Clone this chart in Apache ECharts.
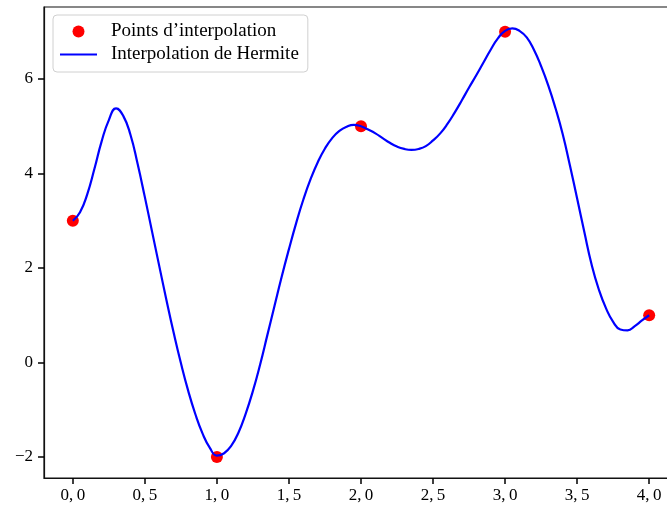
<!DOCTYPE html>
<html>
<head>
<meta charset="utf-8">
<script src="https://cdn.jsdelivr.net/npm/echarts@6/dist/echarts.min.js"></script>
<style>
  html, body { margin: 0; padding: 0; background: #fff; }
  #chart { width: 667px; height: 508px; }
</style>
</head>
<body>
<div id="chart"></div>
<script>
// Interpolation nodes
const nodeX = [0, 1, 2, 3, 4];
const nodeY = [3, -2, 5, 7, 1];

// Hermite interpolating curve, sampled every 0.05 along x
const curveX = [
  0.00, 0.05, 0.10, 0.15, 0.20, 0.25, 0.30, 0.35, 0.40, 0.45,
  0.50, 0.55, 0.60, 0.65, 0.70, 0.75, 0.80, 0.85, 0.90, 0.95,
  1.00, 1.05, 1.10, 1.15, 1.20, 1.25, 1.30, 1.35, 1.40, 1.45,
  1.50, 1.55, 1.60, 1.65, 1.70, 1.75, 1.80, 1.85, 1.90, 1.95,
  2.00, 2.05, 2.10, 2.15, 2.20, 2.25, 2.30, 2.35, 2.40, 2.45,
  2.50, 2.55, 2.60, 2.65, 2.70, 2.75, 2.80, 2.85, 2.90, 2.95,
  3.00, 3.05, 3.10, 3.15, 3.20, 3.25, 3.30, 3.35, 3.40, 3.45,
  3.50, 3.55, 3.60, 3.65, 3.70, 3.75, 3.80, 3.85, 3.90, 3.95,
  4.00];
const curveY = [
  3.00, 3.18, 3.56, 4.10, 4.68, 5.13, 5.38, 5.22, 4.82, 4.20,
  3.50, 2.77, 2.04, 1.32, 0.63, -0.01, -0.59, -1.09, -1.50, -1.80,
  -1.97, -1.92, -1.76, -1.48, -1.08, -0.60, -0.04, 0.58, 1.20, 1.82,
  2.40, 2.95, 3.45, 3.88, 4.24, 4.53, 4.75, 4.90, 4.99, 5.03,
  5.00, 4.93, 4.85, 4.75, 4.65, 4.57, 4.52, 4.50, 4.52, 4.58,
  4.70, 4.85, 5.05, 5.29, 5.55, 5.82, 6.08, 6.35, 6.62, 6.86,
  7.02, 7.07, 7.02, 6.88, 6.62, 6.27, 5.86, 5.38, 4.83, 4.17,
  3.47, 2.76, 2.08, 1.55, 1.15, 0.86, 0.70, 0.68, 0.77, 0.89,
  1.00];

// Tick positions and their labels
const xTicks = [0, 0.5, 1, 1.5, 2, 2.5, 3, 3.5, 4];
const xTickLabels = ['0,\u20090', '0,\u20095', '1,\u20090', '1,\u20095', '2,\u20090',
  '2,\u20095', '3,\u20090', '3,\u20095', '4,\u20090'];
const yTicks = [-2, 0, 2, 4, 6];
const yTickLabels = ['\u22122', '0', '2', '4', '6'];

const seriesNames = ['Points d\u2019interpolation', 'Interpolation de Hermite'];

const FONT = '"Liberation Serif", "DejaVu Serif", serif';
const INK = '#111';

const chart = echarts.init(document.getElementById('chart'), null, { renderer: 'canvas' });

const tickLabel = (ticks, labels) => v => labels[ticks.findIndex(t => Math.abs(t - v) < 1e-9)];

const axisCommon = {
  type: 'value',
  splitLine: { show: false },
  axisLine: { show: true, onZero: false, lineStyle: { color: INK, width: 1.2 } }
};

chart.setOption({
  animation: false,
  backgroundColor: '#fff',
  grid: {
    left: 44, top: 7, width: 634, height: 471,
    show: true, borderColor: INK, borderWidth: 1.2,
    outerBoundsMode: 'none'
  },
  legend: {
    orient: 'vertical',
    left: 53, top: 15,
    padding: [7, 9, 8, 7],
    itemGap: 4,
    itemWidth: 37, itemHeight: 12,
    symbolKeepAspect: true,
    backgroundColor: 'rgba(255,255,255,0.85)',
    borderColor: '#d0d0d0', borderWidth: 1, borderRadius: 4,
    textStyle: { fontFamily: FONT, fontSize: 19, color: '#000', padding: [0, 0, 0, 9] },
    data: [
      { name: seriesNames[0], icon: 'circle' },
      { name: seriesNames[1], icon: 'path://M0,0H37V2.2H0Z' }
    ]
  },
  xAxis: Object.assign({}, axisCommon, {
    min: -0.2, max: 4.2,
    axisTick: { show: true, inside: false, length: 6, customValues: xTicks, lineStyle: { color: '#000', width: 1.5 } },
    axisLabel: {
      customValues: xTicks, margin: 9,
      fontFamily: FONT, fontSize: 17, color: '#000',
      formatter: tickLabel(xTicks, xTickLabels)
    }
  }),
  yAxis: Object.assign({}, axisCommon, {
    min: -2.444, max: 7.524,
    axisTick: { show: true, inside: false, length: 6, customValues: yTicks, lineStyle: { color: '#000', width: 1.5 } },
    axisLabel: {
      customValues: yTicks, margin: 11,
      fontFamily: FONT, fontSize: 17, color: '#000',
      formatter: tickLabel(yTicks, yTickLabels)
    }
  }),
  series: [
    {
      name: seriesNames[0],
      type: 'scatter',
      symbol: 'circle',
      symbolSize: 12,
      itemStyle: { color: '#ff0000', opacity: 1 },
      data: nodeX.map((x, i) => [x, nodeY[i]])
    },
    {
      name: seriesNames[1],
      type: 'line',
      symbol: 'none',
      smooth: 0.5,
      lineStyle: { color: '#0000ff', width: 2.2 },
      itemStyle: { color: '#0000ff' },
      data: curveX.map((x, i) => [x, curveY[i]])
    }
  ]
});
</script>
</body>
</html>
